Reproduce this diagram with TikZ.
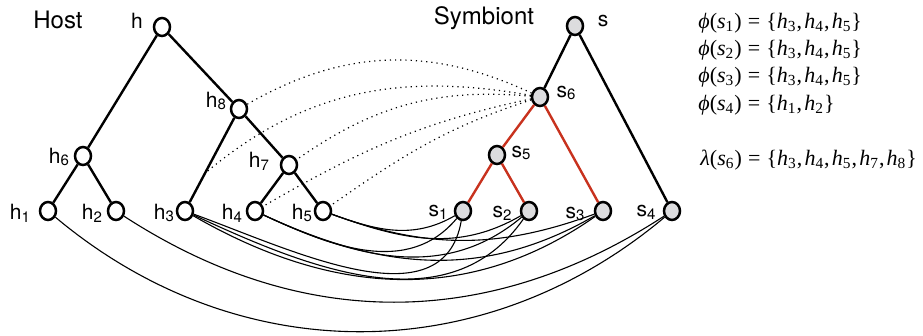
\documentclass[tikz,border=0pt]{standalone}
\usepackage{fontspec}
\usetikzlibrary{shapes.geometric,positioning,calc}
\newfontfamily\helv{TeX Gyre Heros}
\newfontfamily\tms{Liberation Serif}
\definecolor{Sred}{HTML}{C8321E}
\definecolor{Sgray}{HTML}{DCDCDE}
\tikzset{
  hnode/.style={ellipse, draw=black, line width=1.25pt, fill=white, minimum width=8pt, minimum height=9pt, inner sep=0pt},
  snode/.style={hnode, fill=Sgray},
  edge/.style={line width=1.2pt},
  redge/.style={edge, draw=Sred},
  assoc/.style={line width=0.55pt},
  lamlink/.style={dotted, line width=0.6pt},
  lbl/.style={font=\helv\fontsize{10.5}{12}\selectfont, inner sep=0pt},
  ttl/.style={font=\helv\fontsize{12}{14}\selectfont, inner sep=0pt},
  eqn/.style={anchor=west, inner sep=0pt, font=\tms\fontsize{11}{13}\selectfont},
}
\newcommand{\lsub}[1]{\raisebox{-0.25ex}{\fontsize{7.5}{8}\selectfont#1}}
\newcommand{\mv}[2]{\textit{#1}\textsubscript{#2}}
\newcommand{\eqs}{\hspace{0.28em}=\hspace{0.28em}}
\newcommand{\cm}{,\hspace{0.1em}}

\begin{document}
\begin{tikzpicture}[x=0.5pt, y=0.5pt]
  \useasboundingbox (0,0) rectangle (923,336);
  % host tree
  \node[hnode] (h)  at (162,309) {};
  \node[hnode] (h8) at (239,227) {};
  \node[hnode] (h6) at (83,180) {};
  \node[hnode] (h7) at (289,171) {};
  \node[hnode] (h1) at (48,125) {};
  \node[hnode] (h2) at (116,125) {};
  \node[hnode] (h3) at (185,125) {};
  \node[hnode] (h4) at (255,125) {};
  \node[hnode] (h5) at (323,125) {};
  \draw[edge] (h) -- (h6) (h) -- (h8) (h6) -- (h1) (h6) -- (h2)
    (h8) -- (h3) (h8) -- (h7) (h7) -- (h4) (h7) -- (h5);
  \coordinate (h8h3) at ($(h8)!0.63!(h3)$);
  % symbiont tree
  \node[snode] (s)  at (575,310) {};
  \node[snode] (s6) at (540,239) {};
  \node[snode] (s5) at (497,181) {};
  \node[snode] (s1) at (463,125) {};
  \node[snode] (s2) at (529,125) {};
  \node[snode] (s3) at (603,125) {};
  \node[snode] (s4) at (672,125) {};
  \draw[edge] (s) -- (s6) (s) -- (s4);
  \draw[redge] (s6) -- (s5) (s6) -- (s3) (s5) -- (s1) (s5) -- (s2);
  % labels
  \node[ttl] (host) at (58,316) {Host};
  \node[ttl] (symb) at (484,318) {Symbiont};
  \node[lbl] (lh)  at (137,315) {h};
  \node[lbl] (lh8) at (216,235) {h\lsub8};
  \node[lbl] (lh6) at (59,179) {h\lsub6};
  \node[lbl] (lh7) at (259,175) {h\lsub7};
  \node[lbl] (lh1) at (20,123) {h\lsub1};
  \node[lbl] (lh2) at (92,123) {h\lsub2};
  \node[lbl] (lh3) at (164,123) {h\lsub3};
  \node[lbl] (lh4) at (232,123) {h\lsub4};
  \node[lbl] (lh5) at (302,123) {h\lsub5};
  \node[lbl] (ls)  at (603,315) {s};
  \node[lbl] (ls6) at (566,243) {s\lsub6};
  \node[lbl] (ls5) at (521,183) {s\lsub5};
  \node[lbl] (ls1) at (438,124) {s\lsub1};
  \node[lbl] (ls2) at (502,123) {s\lsub2};
  \node[lbl] (ls3) at (575,122) {s\lsub3};
  \node[lbl] (ls4) at (646,124) {s\lsub4};
  % lambda(s6)
  \draw[lamlink] (s6) to[out=155, in=30] (h8);
  \draw[lamlink] (s6) to[out=170, in=40] (h8h3);
  \draw[lamlink] (s6) to[out=175, in=35] (h7);
  \draw[lamlink] (s6) to[out=192, in=30] (h4);
  \draw[lamlink] (s6) to[out=198, in=35] (h5);
  % phi associations
  \foreach \hh/\ss/\o/\i in {h5/s1/-20/-150, h4/s1/-25/-130, h3/s1/-20/-100,
      h5/s2/-20/-150, h4/s2/-25/-140, h3/s2/-25/-125,
      h5/s3/-20/-160, h4/s3/-25/-150, h3/s3/-30/-145,
      h2/s4/-33/-147, h1/s4/-40/-140}
    \draw[assoc] (\hh) to[out=\o, in=\i] (\ss);
  % equations
  \node[eqn] (phi1) at (698,313) {\textit{ϕ}(\mv{s}{1})\eqs\{\mv{h}{3}\cm\mv{h}{4}\cm\mv{h}{5}\}};
  \node[eqn] (phi2) at (698,286) {\textit{ϕ}(\mv{s}{2})\eqs\{\mv{h}{3}\cm\mv{h}{4}\cm\mv{h}{5}\}};
  \node[eqn] (phi3) at (698,259) {\textit{ϕ}(\mv{s}{3})\eqs\{\mv{h}{3}\cm\mv{h}{4}\cm\mv{h}{5}\}};
  \node[eqn] (phi4) at (698,231) {\textit{ϕ}(\mv{s}{4})\eqs\{\mv{h}{1}\cm\mv{h}{2}\}};
  \node[eqn] (lam6) at (700,176) {\textit{λ}(\mv{s}{6})\eqs\{\mv{h}{3}\cm\mv{h}{4}\cm\mv{h}{5}\cm\mv{h}{7}\cm\mv{h}{8}\}};
\end{tikzpicture}
\end{document}
